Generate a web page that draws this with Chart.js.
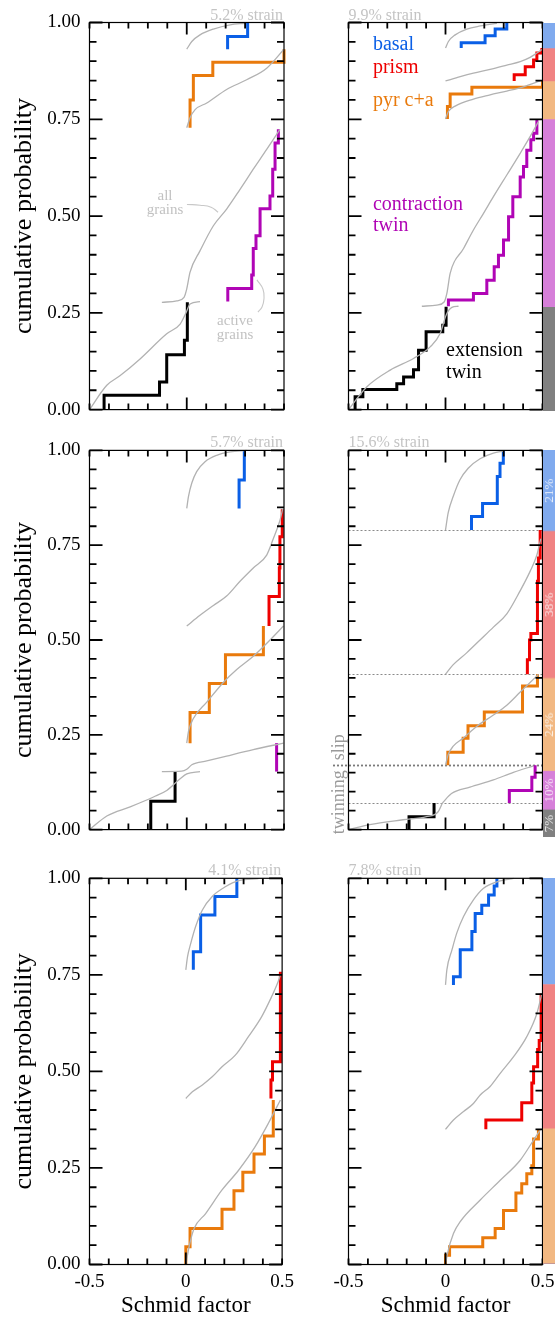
<!DOCTYPE html>
<html>
<head>
<meta charset="utf-8">
<title>Schmid factor distributions</title>
<script src="https://cdn.jsdelivr.net/npm/chart.js@4.4.1/dist/chart.umd.min.js"></script>
<style>
  html, body { margin: 0; padding: 0; background: #fff; overflow: hidden; }
  canvas { position: absolute; }
</style>
</head>
<body>
<script>
const FONT = "'Liberation Serif', 'DejaVu Serif', 'Times New Roman', serif";
const BLUE = '#0a5fe6';
const RED = '#ee0000';
const ORANGE = '#e97a0c';
const MAGENTA = '#b005b5';
const BLACK = '#000000';
const GREY = '#b2b2b2';
const NOTE_GREY = '#c2c2c2';
// stacked from the bottom: extension twin, contraction twin, pyr c+a, prism, basal
const BAR_COLOURS = ['#808080', '#d67fd9', '#f2b882', '#f08282', '#80aaee'];

// ---- 5.2% strain ----
const aBasalAllX = [0, 0.026, 0.068, 0.137, 0.223, 0.30];
const aBasalAllY = [0.931, 0.951, 0.968, 0.983, 0.994, 0.998];
const aPyrAllX = [0, 0.017, 0.043, 0.103, 0.205, 0.308, 0.411, 0.5];
const aPyrAllY = [0.728, 0.754, 0.775, 0.792, 0.827, 0.852, 0.882, 0.931];
const aConAllX = [-0.128, -0.051, -0.014, 0, 0.017, 0.068, 0.137, 0.205, 0.274, 0.342, 0.411, 0.479];
const aConAllY = [0.277, 0.281, 0.290, 0.312, 0.355, 0.410, 0.475, 0.518, 0.569, 0.621, 0.672, 0.724];
const aExtAllX = [-0.5, -0.411, -0.342, -0.24, -0.103, -0.034, -0.003, 0.017, 0.068];
const aExtAllY = [0, 0.063, 0.088, 0.131, 0.196, 0.221, 0.251, 0.273, 0.279];
const aBasalX = [0.21, 0.313];
const aBasalY = [0.931, 0.964, 1.0];
const aPyrX = [0.017, 0.034, 0.134, 0.5];
const aPyrY = [0.728, 0.80, 0.863, 0.897, 0.931];
const aConX = [0.211, 0.334, 0.342, 0.356, 0.377, 0.428, 0.442, 0.454, 0.471];
const aConY = [0.279, 0.313, 0.348, 0.416, 0.449, 0.519, 0.552, 0.621, 0.689, 0.724];
const aExtX = [-0.425, -0.14, -0.103, -0.012, 0.003];
const aExtY = [0, 0.037, 0.071, 0.142, 0.179, 0.277];
const aLeadAllX = [0.001, 0.068, 0.125, 0.161];
const aLeadAllY = [0.530, 0.528, 0.523, 0.510];
const aLeadActX = [0.361, 0.392, 0.397, 0.387, 0.366];
const aLeadActY = [0.335, 0.311, 0.286, 0.265, 0.252];

// ---- 9.9% strain ----
const bBasalAllX = [0, 0.015, 0.05, 0.11, 0.179, 0.265];
const bBasalAllY = [0.934, 0.951, 0.968, 0.983, 0.991, 0.998];
const bPrismAllX = [0, 0.076, 0.144, 0.23, 0.316, 0.385, 0.436, 0.471, 0.5];
const bPrismAllY = [0.849, 0.86, 0.869, 0.879, 0.89, 0.899, 0.91, 0.921, 0.931];
const bPyrAllX = [0, 0.015, 0.05, 0.144, 0.23, 0.316, 0.402, 0.488];
const bPyrAllY = [0.751, 0.77, 0.784, 0.802, 0.813, 0.823, 0.834, 0.849];
const bConAllX = [-0.122, -0.045, -0.007, 0.007, 0.024, 0.093, 0.144, 0.196, 0.247, 0.316, 0.385, 0.436, 0.479];
const bConAllY = [0.267, 0.270, 0.278, 0.300, 0.352, 0.416, 0.464, 0.507, 0.55, 0.606, 0.662, 0.705, 0.744];
const bExtAllX = [-0.5, -0.405, -0.285, -0.165, -0.079, -0.027, 0.003, 0.033, 0.067];
const bExtAllY = [0, 0.059, 0.102, 0.132, 0.162, 0.197, 0.244, 0.264, 0.267];
const bBasalX = [0.081, 0.204, 0.256, 0.316];
const bBasalY = [0.934, 0.948, 0.966, 0.983, 1.0];
const bPrismX = [0.354, 0.411, 0.454, 0.471, 0.497];
const bPrismY = [0.849, 0.865, 0.886, 0.903, 0.921, 0.934];
const bPyrX = [0.01, 0.024, 0.136, 0.5];
const bPyrY = [0.751, 0.783, 0.815, 0.833, 0.849];
const bConX = [0.015, 0.144, 0.213, 0.251, 0.273, 0.299, 0.325, 0.347, 0.385, 0.402, 0.419, 0.440, 0.454, 0.471];
const bConY = [0.267, 0.283, 0.300, 0.334, 0.369, 0.399, 0.438, 0.498, 0.550, 0.601, 0.628, 0.670, 0.697, 0.714, 0.749];
const bExtX = [-0.466, -0.426, -0.251, -0.216, -0.165, -0.139, -0.1, -0.014, 0.003];
const bExtY = [0, 0.033, 0.052, 0.067, 0.084, 0.103, 0.153, 0.201, 0.218, 0.266];
const bBar = [0.267, 0.484, 0.098, 0.085, 0.066];

// ---- 5.7% strain ----
const cBasalAllX = [0, 0.009, 0.026, 0.051, 0.094, 0.154, 0.223, 0.308];
const cBasalAllY = [0.847, 0.879, 0.914, 0.944, 0.970, 0.987, 0.996, 1.0];
const cPrismAllX = [0, 0.068, 0.137, 0.205, 0.274, 0.342, 0.411, 0.445, 0.479, 0.493];
const cPrismAllY = [0.537, 0.565, 0.591, 0.616, 0.655, 0.69, 0.724, 0.767, 0.815, 0.845];
const cPyrAllX = [0, 0.009, 0.034, 0.103, 0.188, 0.257, 0.342, 0.428, 0.497];
const cPyrAllY = [0.228, 0.259, 0.293, 0.336, 0.388, 0.422, 0.457, 0.5, 0.537];
const cConAllX = [-0.128, -0.026, 0, 0.026, 0.103, 0.205, 0.342, 0.497];
const cConAllY = [0.153, 0.154, 0.159, 0.171, 0.181, 0.194, 0.211, 0.228];
const cExtAllX = [-0.5, -0.411, -0.291, -0.171, -0.103, -0.034, 0, 0.068];
const cExtAllY = [0, 0.036, 0.06, 0.086, 0.103, 0.134, 0.147, 0.153];
const cBasalX = [0.269, 0.296];
const cBasalY = [0.847, 0.922, 1.0];
const cPrismX = [0.423, 0.476, 0.479, 0.491];
const cPrismY = [0.537, 0.615, 0.690, 0.772, 0.845];
const cPyrX = [0.017, 0.116, 0.199, 0.394];
const cPyrY = [0.228, 0.309, 0.385, 0.461, 0.537];
const cConX = [0.462];
const cConY = [0.153, 0.228];
const cExtX = [-0.185, -0.06];
const cExtY = [0, 0.075, 0.153];

// ---- 15.6% strain ----
const dBar = [0.07, 0.10, 0.24, 0.38, 0.21];
const dBasalAllX = [0, 0.014, 0.04, 0.074, 0.117, 0.178, 0.247, 0.298];
const dBasalAllY = [0.79, 0.836, 0.879, 0.922, 0.953, 0.978, 0.993, 0.998];
const dPrismAllX = [0, 0.04, 0.109, 0.178, 0.247, 0.316, 0.384, 0.436, 0.471, 0.491];
const dPrismAllY = [0.41, 0.435, 0.466, 0.5, 0.534, 0.569, 0.629, 0.681, 0.724, 0.767];
const dPyrAllX = [0, 0.014, 0.04, 0.091, 0.16, 0.247, 0.316, 0.384, 0.436, 0.479];
const dPyrAllY = [0.17, 0.198, 0.22, 0.241, 0.272, 0.302, 0.328, 0.362, 0.388, 0.409];
const dConAllX = [-0.016, 0.031, 0.126, 0.247, 0.35, 0.453];
const dConAllY = [0.07, 0.095, 0.112, 0.131, 0.151, 0.168];
const dExtAllX = [-0.5, -0.391, -0.219, -0.098, -0.038, -0.016];
const dExtAllY = [0, 0.013, 0.026, 0.034, 0.047, 0.07];
const dBasalX = [0.134, 0.191, 0.267, 0.281, 0.298];
const dBasalY = [0.79, 0.826, 0.860, 0.931, 0.966, 1.0];
const dPrismX = [0.422, 0.433, 0.44, 0.474, 0.479, 0.488];
const dPrismY = [0.41, 0.448, 0.5, 0.517, 0.655, 0.716, 0.79];
const dPyrX = [0.012, 0.091, 0.116, 0.2, 0.397, 0.474];
const dPyrY = [0.17, 0.204, 0.241, 0.274, 0.310, 0.379, 0.41];
const dConX = [0.329, 0.445, 0.462];
const dConY = [0.07, 0.103, 0.138, 0.17];
const dExtX = [-0.188, -0.059];
const dExtY = [0, 0.034, 0.07];

// ---- 4.1% strain ----
const eBasalAllX = [0, 0.009, 0.026, 0.051, 0.086, 0.137, 0.205, 0.274, 0.377];
const eBasalAllY = [0.763, 0.797, 0.832, 0.875, 0.918, 0.953, 0.978, 0.994, 0.999];
const ePrismAllX = [0, 0.034, 0.086, 0.137, 0.188, 0.257, 0.325, 0.394, 0.445, 0.479, 0.491];
const ePrismAllY = [0.43, 0.447, 0.465, 0.486, 0.512, 0.542, 0.59, 0.642, 0.693, 0.732, 0.75];
const ePyrAllX = [0, 0.017, 0.043, 0.103, 0.188, 0.274, 0.36, 0.428, 0.491];
const ePyrAllY = [0, 0.046, 0.093, 0.132, 0.193, 0.244, 0.305, 0.365, 0.426];
const eBasalX = [0.039, 0.077, 0.151, 0.265];
const eBasalY = [0.763, 0.81, 0.905, 0.953, 1.0];
const ePrismX = [0.442, 0.45, 0.491];
const ePrismY = [0.43, 0.478, 0.525, 0.758];
const ePyrX = [0, 0.022, 0.188, 0.25, 0.296, 0.354, 0.408, 0.454];
const ePyrY = [0, 0.046, 0.093, 0.143, 0.191, 0.239, 0.286, 0.333, 0.426];

// ---- 7.8% strain ----
const fBasalAllX = [0, 0.007, 0.033, 0.058, 0.093, 0.144, 0.196, 0.265, 0.351];
const fBasalAllY = [0.724, 0.763, 0.814, 0.858, 0.901, 0.944, 0.974, 0.991, 1.0];
const fPrismAllX = [0, 0.041, 0.093, 0.144, 0.179, 0.23, 0.282, 0.351, 0.419, 0.471, 0.497];
const fPrismAllY = [0.35, 0.374, 0.396, 0.417, 0.439, 0.461, 0.495, 0.538, 0.59, 0.65, 0.702];
const fPyrAllX = [0, 0.01, 0.041, 0.076, 0.179, 0.282, 0.385, 0.454, 0.488];
const fPyrAllY = [0, 0.028, 0.08, 0.111, 0.167, 0.218, 0.27, 0.322, 0.348];
const fBasalX = [0.041, 0.076, 0.136, 0.153, 0.187, 0.222, 0.251, 0.265];
const fBasalY = [0.724, 0.745, 0.815, 0.862, 0.909, 0.93, 0.957, 0.98, 1.0];
const fPrismX = [0.208, 0.393, 0.445, 0.454, 0.475, 0.483, 0.493];
const fPrismY = [0.35, 0.374, 0.419, 0.47, 0.512, 0.557, 0.58, 0.702];
const fPyrX = [0, 0.021, 0.192, 0.256, 0.299, 0.363, 0.393, 0.419, 0.445, 0.454, 0.479];
const fPyrY = [0, 0.024, 0.046, 0.069, 0.093, 0.14, 0.185, 0.209, 0.235, 0.256, 0.325, 0.348];
const fBar = [0, 0, 0.35, 0.374, 0.276];

// page grid (px): canvas box and plot-area edges inside it
const rows = [
    { top: 0, height: 430, plotTop: 22.5, plotBottom: 411 },
    { top: 430, height: 420, plotTop: 20, plotBottom: 406.7 },
    { top: 850, height: 473, plotTop: 28.3, plotBottom: 414.5 }
];
const cols = [
    { left: 0, width: 300, plotLeft: 89.5, plotRight: 284 },
    { left: 300, width: 262, plotLeft: 48.5, plotRight: 242.5 }
];

const panels = [
    { row: 0, col: 0, strain: '5.2% strain',
      curves: [[aBasalAllX, aBasalAllY], [aPyrAllX, aPyrAllY], [aConAllX, aConAllY], [aExtAllX, aExtAllY]],
      leaders: [[aLeadAllX, aLeadAllY], [aLeadActX, aLeadActY]],
      steps: [[aBasalX, aBasalY, BLUE], [aPyrX, aPyrY, ORANGE], [aConX, aConY, MAGENTA], [aExtX, aExtY, BLACK]],
      notes: [
          { text: 'all', x: -0.112, y: 0.551, color: NOTE_GREY, size: 15, align: 'center' },
          { text: 'grains', x: -0.112, y: 0.515, color: NOTE_GREY, size: 15, align: 'center' },
          { text: 'active', x: 0.248, y: 0.229, color: NOTE_GREY, size: 15, align: 'center' },
          { text: 'grains', x: 0.248, y: 0.193, color: NOTE_GREY, size: 15, align: 'center' }
      ] },
    { row: 0, col: 1, strain: '9.9% strain', bar: bBar,
      curves: [[bBasalAllX, bBasalAllY], [bPrismAllX, bPrismAllY], [bPyrAllX, bPyrAllY], [bConAllX, bConAllY], [bExtAllX, bExtAllY]],
      steps: [[bBasalX, bBasalY, BLUE], [bPrismX, bPrismY, RED], [bPyrX, bPyrY, ORANGE], [bConX, bConY, MAGENTA], [bExtX, bExtY, BLACK]],
      notes: [
          { text: 'basal', x: -0.374, y: 0.942, color: BLUE, size: 20, align: 'left' },
          { text: 'prism', x: -0.374, y: 0.883, color: RED, size: 20, align: 'left' },
          { text: 'pyr c+a', x: -0.374, y: 0.798, color: ORANGE, size: 20, align: 'left' },
          { text: 'contraction', x: -0.374, y: 0.528, color: MAGENTA, size: 20, align: 'left' },
          { text: 'twin', x: -0.374, y: 0.476, color: MAGENTA, size: 20, align: 'left' },
          { text: 'extension', x: 0.003, y: 0.151, color: BLACK, size: 20, align: 'left' },
          { text: 'twin', x: 0.003, y: 0.095, color: BLACK, size: 20, align: 'left' }
      ] },
    { row: 1, col: 0, strain: '5.7% strain',
      curves: [[cBasalAllX, cBasalAllY], [cPrismAllX, cPrismAllY], [cPyrAllX, cPyrAllY], [cConAllX, cConAllY], [cExtAllX, cExtAllY]],
      steps: [[cBasalX, cBasalY, BLUE], [cPrismX, cPrismY, RED], [cPyrX, cPyrY, ORANGE], [cConX, cConY, MAGENTA], [cExtX, cExtY, BLACK]] },
    { row: 1, col: 1, strain: '15.6% strain', bar: dBar, barText: true, separators: true,
      curves: [[dBasalAllX, dBasalAllY], [dPrismAllX, dPrismAllY], [dPyrAllX, dPyrAllY], [dConAllX, dConAllY], [dExtAllX, dExtAllY]],
      steps: [[dBasalX, dBasalY, BLUE], [dPrismX, dPrismY, RED], [dPyrX, dPyrY, ORANGE], [dConX, dConY, MAGENTA], [dExtX, dExtY, BLACK]] },
    { row: 2, col: 0, strain: '4.1% strain',
      curves: [[eBasalAllX, eBasalAllY], [ePrismAllX, ePrismAllY], [ePyrAllX, ePyrAllY]],
      steps: [[eBasalX, eBasalY, BLUE], [ePrismX, ePrismY, RED], [ePyrX, ePyrY, ORANGE]] },
    { row: 2, col: 1, strain: '7.8% strain', bar: fBar,
      curves: [[fBasalAllX, fBasalAllY], [fPrismAllX, fPrismAllY], [fPyrAllX, fPyrAllY]],
      steps: [[fBasalX, fBasalY, BLUE], [fPrismX, fPrismY, RED], [fPyrX, fPyrY, ORANGE]] }
];

Chart.defaults.font.family = FONT;
Chart.defaults.color = '#000';

function toPoints(xs, ys) {
    return xs.map((x, i) => ({ x: x, y: ys[i] }));
}

// one vertical rise per Schmid factor, last rise closes the curve
function toSteps(xs, ys) {
    const pts = toPoints(xs, ys);
    pts.push({ x: xs[xs.length - 1], y: ys[ys.length - 1] });
    return pts;
}

function cumulative(fr) {
    let s = 0;
    return fr.map(f => (s += f));
}

const near = (a, b) => Math.abs(a - b) < 1e-6;

// frame and inward ticks on all four sides
const frameTicks = {
    id: 'frameTicks',
    afterDatasetsDraw(chart) {
        const { ctx, chartArea: a, scales: { x, y } } = chart;
        ctx.save();
        ctx.strokeStyle = '#000';
        ctx.lineWidth = 1.2;
        ctx.strokeRect(a.left, a.top, a.right - a.left, a.bottom - a.top);
        ctx.lineWidth = 1.8;
        ctx.beginPath();
        for (const t of x.ticks) {
            const px = x.getPixelForValue(t.value);
            const len = near(t.value, 0) ? 12 : 6;
            ctx.moveTo(px, a.bottom); ctx.lineTo(px, a.bottom - len);
            ctx.moveTo(px, a.top); ctx.lineTo(px, a.top + len);
        }
        for (const t of y.ticks) {
            const py = y.getPixelForValue(t.value);
            const len = near(t.value * 4, Math.round(t.value * 4)) ? 13 : 7;
            ctx.moveTo(a.left, py); ctx.lineTo(a.left + len, py);
            ctx.moveTo(a.right, py); ctx.lineTo(a.right - len, py);
        }
        ctx.stroke();
        ctx.restore();
    }
};

function extrasFor(p) {
    return {
        id: 'extras',
        beforeDatasetsDraw(chart) {
            if (!p.separators) return;
            const { ctx, chartArea: a, scales: { y } } = chart;
            const edges = cumulative(p.bar).slice(0, -1);
            ctx.save();
            edges.forEach((v, i) => {
                const py = Math.round(y.getPixelForValue(v)) + 0.5;
                const thick = i === 1;
                ctx.setLineDash([2, 2]);
                ctx.lineWidth = thick ? 1.8 : 1;
                ctx.strokeStyle = thick ? '#7a7a7a' : '#8a8a8a';
                ctx.beginPath();
                ctx.moveTo(thick ? 33 : a.left, py);
                ctx.lineTo(a.right, py);
                ctx.stroke();
            });
            ctx.restore();
        },
        afterDraw(chart) {
            const { ctx, chartArea: a, scales: { x, y } } = chart;
            ctx.save();
            ctx.font = '16px ' + FONT;
            ctx.fillStyle = '#c4c4c4';
            ctx.textBaseline = 'alphabetic';
            if (p.col === 0) {
                ctx.textAlign = 'right';
                ctx.fillText(p.strain, a.right - 1, a.top - 3);
            } else {
                ctx.textAlign = 'left';
                ctx.fillText(p.strain, a.left, a.top - 3);
            }
            ctx.textBaseline = 'middle';
            for (const n of p.notes || []) {
                ctx.font = n.size + 'px ' + FONT;
                ctx.fillStyle = n.color;
                ctx.textAlign = n.align;
                ctx.fillText(n.text, x.getPixelForValue(n.x), y.getPixelForValue(n.y));
            }
            if (p.separators) {
                const py = y.getPixelForValue(cumulative(p.bar)[1]);
                ctx.translate(39, py);
                ctx.rotate(-Math.PI / 2);
                ctx.font = '18px ' + FONT;
                ctx.fillStyle = '#9a9a9a';
                ctx.textAlign = 'right';
                ctx.fillText('twinning', -5, 0);
                ctx.textAlign = 'left';
                ctx.fillText('slip', 5, 0);
            }
            ctx.restore();
        }
    };
}

function addCanvas(left, top, w, h) {
    const cv = document.createElement('canvas');
    cv.width = w;
    cv.height = h;
    cv.style.left = left + 'px';
    cv.style.top = top + 'px';
    cv.style.width = w + 'px';
    cv.style.height = h + 'px';
    document.body.appendChild(cv);
    return cv;
}

for (const p of panels) {
    const row = rows[p.row];
    const col = cols[p.col];
    const showX = p.row === 2;
    const showY = p.col === 0;
    const cv = addCanvas(col.left, row.top, col.width, row.height);

    const datasets = [];
    for (const [xs, ys] of p.curves) {
        datasets.push({ data: toPoints(xs, ys), borderColor: GREY, borderWidth: 1.3,
            cubicInterpolationMode: 'monotone', pointRadius: 0, clip: false });
    }
    for (const [xs, ys] of p.leaders || []) {
        datasets.push({ data: toPoints(xs, ys), borderColor: '#c8c8c8', borderWidth: 1.1,
            tension: 0.45, pointRadius: 0, clip: false });
    }
    for (const [xs, ys, colour] of p.steps) {
        datasets.push({ data: toSteps(xs, ys), borderColor: colour, borderWidth: 3,
            stepped: 'after', pointRadius: 0, clip: false, borderJoinStyle: 'miter' });
    }

    new Chart(cv, {
        type: 'line',
        data: { datasets: datasets },
        options: {
            responsive: false,
            animation: false,
            events: [],
            parsing: false,
            layout: { padding: { top: row.plotTop, right: col.width - col.plotRight, bottom: 0, left: 0 } },
            plugins: { legend: { display: false }, tooltip: { enabled: false } },
            scales: {
                x: {
                    type: 'linear', min: -0.5, max: 0.5,
                    grid: { display: false, drawTicks: false },
                    border: { display: false },
                    ticks: {
                        stepSize: 0.1, autoSkip: false, maxRotation: 0, padding: 6,
                        font: { size: 19 },
                        callback: v => {
                            if (!showX) return '';
                            if (near(v, 0)) return '0';
                            if (near(Math.abs(v), 0.5)) return v < 0 ? '-0.5' : '0.5';
                            return '';
                        }
                    },
                    title: { display: showX, text: 'Schmid factor', font: { size: 23 }, padding: { top: 0, bottom: 3 } },
                    afterFit: s => { s.height = row.height - row.plotBottom; }
                },
                y: {
                    type: 'linear', min: 0, max: 1,
                    grid: { display: false, drawTicks: false },
                    border: { display: false },
                    ticks: {
                        stepSize: 0.05, autoSkip: false, padding: 9,
                        font: { size: 19 },
                        callback: v => (showY && near(v * 4, Math.round(v * 4))) ? v.toFixed(2) : ''
                    },
                    title: { display: showY, text: 'cumulative probability', font: { size: 26 }, padding: { top: 9, bottom: 0 } },
                    afterFit: s => { s.width = col.plotLeft; }
                }
            }
        },
        plugins: [frameTicks, extrasFor(p)]
    });

    if (p.bar) {
        const top = row.top + row.plotTop;
        const h = row.plotBottom - row.plotTop;
        const bcv = addCanvas(543, top, 14, h);
        const barText = p.barText;
        new Chart(bcv, {
            type: 'bar',
            data: {
                labels: [''],
                datasets: p.bar.map((f, i) => ({
                    data: [f], backgroundColor: BAR_COLOURS[i], borderWidth: 0,
                    barPercentage: 1, categoryPercentage: 1
                }))
            },
            options: {
                responsive: false,
                animation: false,
                events: [],
                layout: { padding: 0 },
                plugins: { legend: { display: false }, tooltip: { enabled: false } },
                scales: {
                    x: { display: false, stacked: true },
                    y: { display: false, stacked: true, min: 0, max: 1 }
                }
            },
            plugins: [{
                id: 'barText',
                afterDatasetsDraw(chart) {
                    if (!barText) return;
                    const ctx = chart.ctx;
                    ctx.save();
                    ctx.font = '13px ' + FONT;
                    ctx.fillStyle = 'rgba(255,255,255,0.8)';
                    ctx.textAlign = 'center';
                    ctx.textBaseline = 'middle';
                    chart.data.datasets.forEach((ds, i) => {
                        const el = chart.getDatasetMeta(i).data[0];
                        ctx.save();
                        ctx.translate(7, (el.y + el.base) / 2);
                        ctx.rotate(-Math.PI / 2);
                        ctx.fillText(Math.round(ds.data[0] * 100) + '%', 0, 0);
                        ctx.restore();
                    });
                    ctx.restore();
                }
            }]
        });
    }
}
</script>
</body>
</html>
